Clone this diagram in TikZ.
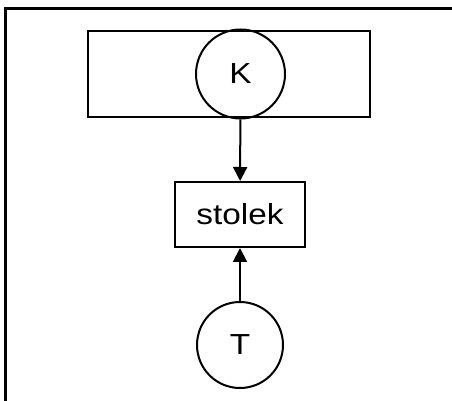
\documentclass[tikz,border=0pt]{standalone}
\usepackage{fontspec}
\setmainfont[FakeStretch=1.15]{Liberation Sans}
\usetikzlibrary{arrows.meta}
\begin{document}
\begin{tikzpicture}[x=1pt,y=1pt,
  box/.style={draw, line width=2pt, minimum width=#1, inner sep=0pt},
  circ/.style={draw, circle, line width=2pt, minimum size=#1, inner sep=0pt},
  lbl/.style={font=\fontsize{29}{29}\selectfont},
  conn/.style={line width=2pt, -{Triangle[length=14pt,width=14pt]}}]
\useasboundingbox (0,0) rectangle (452,401);
\draw[line width=3pt] (5,-5) -- (5,392) -- (460,392);
\node[box=282pt, minimum height=86pt] (outer) at (229,327) {};
\node[circ=89pt, lbl] (K) at (240.5,327) {K};
\node[box=130pt, minimum height=65pt, lbl] (stolek) at (240,186.5) {stolek};
\node[circ=86pt, lbl] (T) at (240,56) {T};
\draw[conn] (K) -- (stolek);
\draw[conn] (T) -- (stolek);
\end{tikzpicture}
\end{document}
